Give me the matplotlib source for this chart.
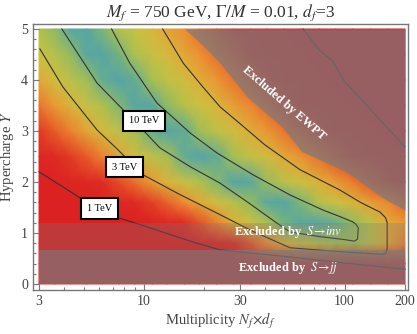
import numpy as np
import matplotlib
matplotlib.use("Agg")
import matplotlib.pyplot as plt
from matplotlib.colors import LinearSegmentedColormap, Normalize

plt.rcParams['font.family'] = ['Liberation Serif', 'DejaVu Serif']
plt.rcParams['mathtext.fontset'] = 'stix'

# log10(cutoff / TeV) on a grid (rows: hypercharge, cols: multiplicity)
mult = [3, 3.6, 4.3, 5.2, 6.2, 7.5, 9, 11, 13, 16, 19, 23, 28, 34, 41, 50, 60, 75, 90, 110, 135, 165, 200]
hyper = [0, 0.4, 0.8, 1.2, 1.6, 2.0, 2.5, 3.0, 3.5, 4.0, 4.5, 5.0]
logcut = [
    [-0.80, -0.80, -0.80, -0.79, -0.78, -0.77, -0.75, -0.73, -0.71, -0.69, -0.66, -0.64,
     -0.61, -0.58, -0.54, -0.50, -0.46, -0.42, -0.39, -0.35, -0.32, -0.29, -0.26],
    [-0.62, -0.61, -0.60, -0.58, -0.56, -0.53, -0.50, -0.46, -0.43, -0.39, -0.35, -0.31,
     -0.27, -0.22, -0.18, -0.14, -0.11, -0.07, -0.03, 0.01, 0.04, 0.07, 0.10],
    [-0.50, -0.47, -0.43, -0.38, -0.33, -0.27, -0.21, -0.15, -0.10, -0.04, 0.01, 0.07,
     0.16, 0.28, 0.38, 0.51, 0.62, 0.78, 0.88, 0.92, 0.75, 0.46, 0.36],
    [-0.40, -0.32, -0.25, -0.18, -0.12, -0.06, -0.01, 0.05, 0.11, 0.20, 0.27, 0.36,
     0.48, 0.64, 0.86, 1.08, 1.20, 1.22, 1.12, 0.98, 0.75, 0.47, 0.40],
    [-0.18, -0.11, -0.05, 0.02, 0.07, 0.12, 0.18, 0.24, 0.30, 0.38, 0.46, 0.62,
     0.79, 0.97, 1.20, 1.26, 1.06, 0.80, 0.66, 0.52, 0.43, 0.37, 0.30],
    [-0.02, 0.04, 0.09, 0.14, 0.20, 0.26, 0.33, 0.42, 0.51, 0.69, 0.84, 1.03,
     1.26, 1.22, 0.97, 0.76, 0.63, 0.48, 0.42, 0.35, 0.28, 0.22, 0.17],
    [0.11, 0.17, 0.23, 0.29, 0.36, 0.45, 0.58, 0.76, 0.90, 1.15, 1.28, 1.16,
     0.91, 0.72, 0.59, 0.46, 0.40, 0.33, 0.27, 0.21, 0.16, 0.11, 0.06],
    [0.23, 0.29, 0.36, 0.45, 0.57, 0.74, 0.90, 1.14, 1.27, 1.16, 0.93, 0.74,
     0.60, 0.47, 0.41, 0.34, 0.28, 0.22, 0.17, 0.12, 0.07, 0.01, -0.04],
    [0.34, 0.42, 0.52, 0.69, 0.84, 1.03, 1.25, 1.23, 1.01, 0.78, 0.65, 0.52,
     0.43, 0.37, 0.31, 0.24, 0.20, 0.14, 0.10, 0.04, -0.02, -0.07, -0.12],
    [0.46, 0.60, 0.76, 0.93, 1.14, 1.28, 1.16, 0.90, 0.73, 0.59, 0.47, 0.41,
     0.34, 0.28, 0.22, 0.18, 0.13, 0.07, 0.02, -0.03, -0.08, -0.14, -0.19],
    [0.65, 0.80, 0.97, 1.21, 1.27, 1.08, 0.86, 0.69, 0.57, 0.45, 0.39, 0.33,
     0.27, 0.21, 0.17, 0.12, 0.07, 0.01, -0.04, -0.09, -0.14, -0.19, -0.24],
    [0.83, 1.00, 1.23, 1.26, 1.05, 0.83, 0.68, 0.54, 0.45, 0.38, 0.32, 0.26,
     0.21, 0.16, 0.11, 0.06, 0.01, -0.05, -0.09, -0.14, -0.20, -0.25, -0.30],
]

# contour lines
c1_n = [3, 4.0, 4.97, 7.3, 10, 13.5, 18, 23.9, 35, 53.5, 100, 200]
c1_y = [2.2, 1.89, 1.65, 1.31, 1.14, 0.97, 0.81, 0.67, 0.6, 0.53, 0.41, 0.29]
c3_n = [3.03, 3.95, 5.84, 7.43, 9.9, 15, 23.1, 35, 53.5, 90, 130, 155, 161, 163, 163, 160,
        150, 120, 95, 60, 40, 30, 24, 19.7, 15.7, 12.4]
c3_y = [4.61, 3.86, 3.02, 2.63, 2.14, 1.76, 1.39, 1.03, 0.71, 0.64, 0.6, 0.58, 0.61, 0.7, 1.2, 1.3,
        1.41, 1.6, 1.84, 2.24, 2.73, 3.15, 3.47, 3.86, 4.33, 5.0]
c10_n = [3.9, 5.84, 7.9, 10, 12, 17, 23.9, 33, 45, 53.5, 75, 100, 112, 116, 117, 114,
         110, 95, 78, 53.5, 35, 23.1, 17, 11.6, 8.5, 6.9]
c10_y = [5.0, 3.94, 3.41, 3.0, 2.67, 2.3, 1.98, 1.6, 1.22, 1.02, 0.93, 0.87, 0.84, 0.88, 1.1, 1.17,
         1.216, 1.32, 1.45, 1.745, 2.14, 2.57, 2.96, 3.55, 4.33, 5.0]
c1far_n = [62, 75, 86.5, 100, 126, 160, 200]
c1far_y = [5.0, 4.58, 4.39, 3.97, 3.55, 3.1, 2.69]

# exclusion regions
ewpt_n = [16, 20, 24, 33, 48.8, 61, 80, 104, 153, 200]
ewpt_y = [5.0, 4.65, 4.33, 3.65, 3.08, 2.6, 2.39, 2.18, 1.7, 1.45]
inv_top = 1.2
jj_top = 0.66

labels = ["1 TeV", "3 TeV", "10 TeV"]
label_n = [6.0, 8.0, 10.0]
label_y = [1.48, 2.29, 3.2]

top = 1.3
cmap = LinearSegmentedColormap.from_list("lp", [
    (0.0, (0.86, 0.13, 0.13)),
    (0.2 / top, (0.87, 0.17, 0.14)),
    (0.29 / top, (0.90, 0.36, 0.16)),
    (0.38 / top, (0.93, 0.56, 0.20)),
    (0.48 / top, (0.87, 0.69, 0.22)),
    (0.65 / top, (0.79, 0.76, 0.26)),
    (0.9 / top, (0.66, 0.75, 0.32)),
    (1.0 / top, (0.56, 0.73, 0.39)),
    (1.1 / top, (0.42, 0.69, 0.53)),
    (1.2 / top, (0.36, 0.66, 0.62)),
    (1.0, (0.33, 0.64, 0.66)),
])

fig = plt.figure(figsize=(4.17, 3.34), dpi=100)
ax = fig.add_axes([33 / 417, 1 - 290 / 334, 375 / 417, 266 / 334])
ax.set_xscale("log")

X, Y = np.meshgrid(mult, hyper)
ax.pcolormesh(X, Y, np.array(logcut), shading="gouraud", cmap=cmap,
              norm=Normalize(0, top), zorder=0)

lc = (0.2, 0.2, 0.2)
for xs, ys in [(c1_n, c1_y), (c3_n, c3_y), (c10_n, c10_y), (c1far_n, c1far_y)]:
    ax.plot(xs, ys, color=lc, lw=0.8, zorder=1)

grey = (0.48, 0.48, 0.49)
ax.fill_between(ewpt_n, ewpt_y, 5.0, color=grey, alpha=0.7, lw=0, zorder=2)
ax.fill_between([3, 200], 0, inv_top, color=grey, alpha=0.28, lw=0, zorder=2)
ax.fill_between([3, 200], 0, jj_top, color=grey, alpha=0.6, lw=0, zorder=2)

ax.text(50, 3.55, "Excluded by EWPT", color="white", fontsize=9, fontweight="bold",
        rotation=-41, ha="center", va="center", zorder=3)
ax.text(52, 1.02, r"Excluded by  $S\!\rightarrow\! inv$", color="white", fontsize=9,
        fontweight="bold", ha="center", va="center", zorder=3)
ax.text(52, 0.31, r"Excluded by  $S\!\rightarrow\! jj$", color="white", fontsize=9,
        fontweight="bold", ha="center", va="center", zorder=3)

for t, xn, yy in zip(labels, label_n, label_y):
    ax.text(xn, yy, t, fontsize=7.5, ha="center", va="center", zorder=4, color="black",
            bbox=dict(boxstyle="square,pad=0.55", fc="white", ec="black", lw=1.5))

ax.set_xlim(2.8, 207)
ax.set_ylim(-0.118, 5.098)

ax.set_xticks([3, 10, 30, 100, 200])
ax.set_xticklabels(["3", "10", "30", "100", "200"])
ax.set_xticks([4, 5, 6, 7, 8, 9, 20, 40, 50, 60, 70, 80, 90], minor=True)
ax.set_xticklabels([], minor=True)
ax.set_yticks([0, 1, 2, 3, 4, 5])
ax.set_yticks(np.arange(0, 5.01, 0.2), minor=True)

tc = "#444444"
ax.tick_params(which="both", direction="in", color="#777777", labelcolor=tc,
               labelsize=10, width=0.8)
ax.tick_params(which="major", length=4)
ax.tick_params(which="minor", length=2)
for s in ax.spines.values():
    s.set_color("#777777")
    s.set_linewidth(1.0)

ax.set_xlabel(r"Multiplicity $N_f\!\times\! d_f$", fontsize=10.5, color=tc, labelpad=2)
ax.set_ylabel(r"Hypercharge $Y$", fontsize=10.5, color=tc, labelpad=4)
ax.set_title(r"$M_f$ = 750 GeV, $\Gamma/M$ = 0.01, $d_f$=3", fontsize=12.5,
             color="#333333", pad=5)

fig.savefig("out.png", dpi=100)
